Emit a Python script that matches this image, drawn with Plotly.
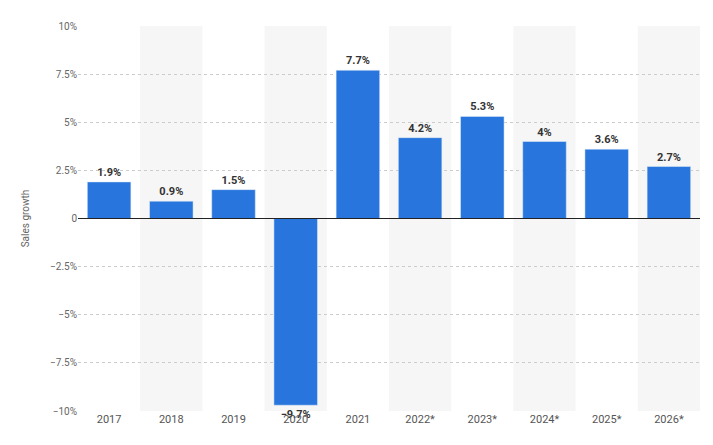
import plotly.graph_objects as go

years = ["2017", "2018", "2019", "2020", "2021", "2022*", "2023*", "2024*", "2025*", "2026*"]
growth = [1.9, 0.9, 1.5, -9.7, 7.7, 4.2, 5.3, 4.0, 3.6, 2.7]
labels = ["1.9%", "0.9%", "1.5%", "−9.7%", "7.7%", "4.2%", "5.3%", "4%", "3.6%", "2.7%"]
tick_vals = [-10, -7.5, -5, -2.5, 0, 2.5, 5, 7.5, 10]
tick_text = ["−10%", "−7.5%", "−5%", "−2.5%", "0", "2.5%", "5%", "7.5%", "10%"]

fig = go.Figure(go.Bar(
    x=years, y=growth, marker_color="#2876dd", width=0.7,
    text=labels, textposition="outside", cliponaxis=False,
    textfont=dict(family="Roboto", size=11, color="#333333", weight="bold"),
))

shapes = []
for i in range(1, len(years), 2):
    shapes.append(dict(type="rect", xref="x", yref="paper", x0=i - 0.5, x1=i + 0.5,
                       y0=0, y1=1, fillcolor="#f6f6f6", line_width=0, layer="below"))
shapes.append(dict(type="line", xref="paper", yref="y", x0=0, x1=1, y0=0, y1=0,
                   line=dict(color="#222222", width=1)))

fig.update_layout(
    width=713, height=445, plot_bgcolor="white", paper_bgcolor="white",
    margin=dict(l=70, r=21, t=12, b=42), shapes=shapes, showlegend=False,
    font=dict(family="Roboto", color="#666666", size=11),
    xaxis=dict(showgrid=False, tickfont=dict(size=11, color="#555555"), ticks=""),
    yaxis=dict(range=[-10, 10], tickvals=tick_vals, ticktext=tick_text, zeroline=False,
               showgrid=True, gridcolor="#cccccc", griddash="dot",
               tickfont=dict(size=10, color="#666666"),
               title=dict(text="Sales growth", font=dict(size=10, color="#666666"), standoff=18)),
)
fig.write_html("out.html")
